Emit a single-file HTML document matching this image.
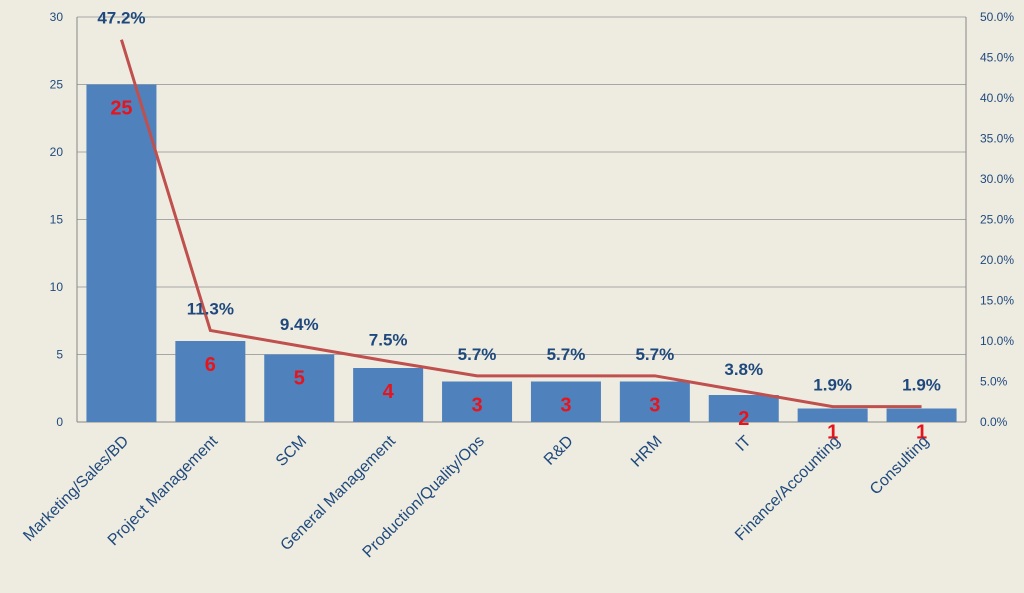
<!DOCTYPE html>
<html><head><meta charset="utf-8"><style>
body{margin:0;background:#eeece1;}
svg{display:block;font-family:"Liberation Sans",sans-serif;}
</style></head><body>
<svg id="chart" width="1024" height="593" viewBox="0 0 1024 593">
<rect width="1024" height="593" fill="#eeece1"/>
<g id="grid"></g><g id="bars"></g><g id="line"></g><g id="labels"></g><g id="axes"></g>
</svg>
<script>
const categories=["Marketing/Sales/BD","Project Management","SCM","General Management","Production/Quality/Ops","R&D","HRM","IT","Finance/Accounting","Consulting"];
const counts=[25,6,5,4,3,3,3,2,1,1];
const percents=[47.2,11.3,9.4,7.5,5.7,5.7,5.7,3.8,1.9,1.9];
const leftTicks=[0,5,10,15,20,25,30];
const rightTicks=[0,5,10,15,20,25,30,35,40,45,50];
const NS="http://www.w3.org/2000/svg";
const X0=77,X1=966,Y0=422,Y1=17;
const band=(X1-X0)/categories.length;
const xC=i=>X0+band*(i+0.5);
const yL=v=>Y0-(v/30)*(Y0-Y1);
const yR=p=>Y0-(p/50)*(Y0-Y1);
function mk(tag,attrs,parent,text){const e=document.createElementNS(NS,tag);for(const k in attrs)e.setAttribute(k,attrs[k]);if(text!==undefined)e.textContent=text;document.getElementById(parent).appendChild(e);return e;}
leftTicks.forEach(t=>{
  const l=mk("line",{x1:X0,x2:X1,y1:yL(t),y2:yL(t),stroke:t===0?"#868686":"#a6a6a6","stroke-width":1},"grid");
  
  
  const tx=mk("text",{x:X0-14,y:yL(t)+4,"text-anchor":"end","font-size":12,fill:"#1f497d"},"axes",String(t));
  
  
});
rightTicks.forEach(t=>{
  const tx=mk("text",{x:X1+14,y:yR(t)+4,"font-size":12,fill:"#1f497d"},"axes",t.toFixed(1)+"%");
  
  
});
const ax=mk("line",{x1:X1,x2:X1,y1:Y1,y2:Y0,stroke:"#868686"},"axes");


const ax2=mk("line",{x1:X0,x2:X0,y1:Y1,y2:Y0,stroke:"#868686"},"axes");


const bw=70;
counts.forEach((v,i)=>{
  const r=mk("rect",{x:xC(i)-bw/2,y:yL(v),width:bw,height:Y0-yL(v),fill:"#4f81bd"},"bars");
  
  
  const t=mk("text",{x:xC(i),y:yL(v)+30,"text-anchor":"middle","font-size":20,"font-weight":"bold",fill:"#e8141b"},"labels",String(v));
  
  
  const p=mk("text",{x:xC(i),y:yR(percents[i])-16,"text-anchor":"middle","font-size":17,"font-weight":"bold",fill:"#1f497d"},"labels",percents[i].toFixed(1)+"%");
  
  
  const c=mk("text",{transform:`translate(${xC(i)+8},${Y0+20}) rotate(-45)`,"text-anchor":"end","font-size":16,fill:"#1f497d"},"labels",categories[i]);
  
  
});
const pl=mk("polyline",{points:percents.map((p,i)=>xC(i)+","+yR(p)).join(" "),fill:"none",stroke:"#c0504d","stroke-width":3},"line");


</script>
</body></html>
